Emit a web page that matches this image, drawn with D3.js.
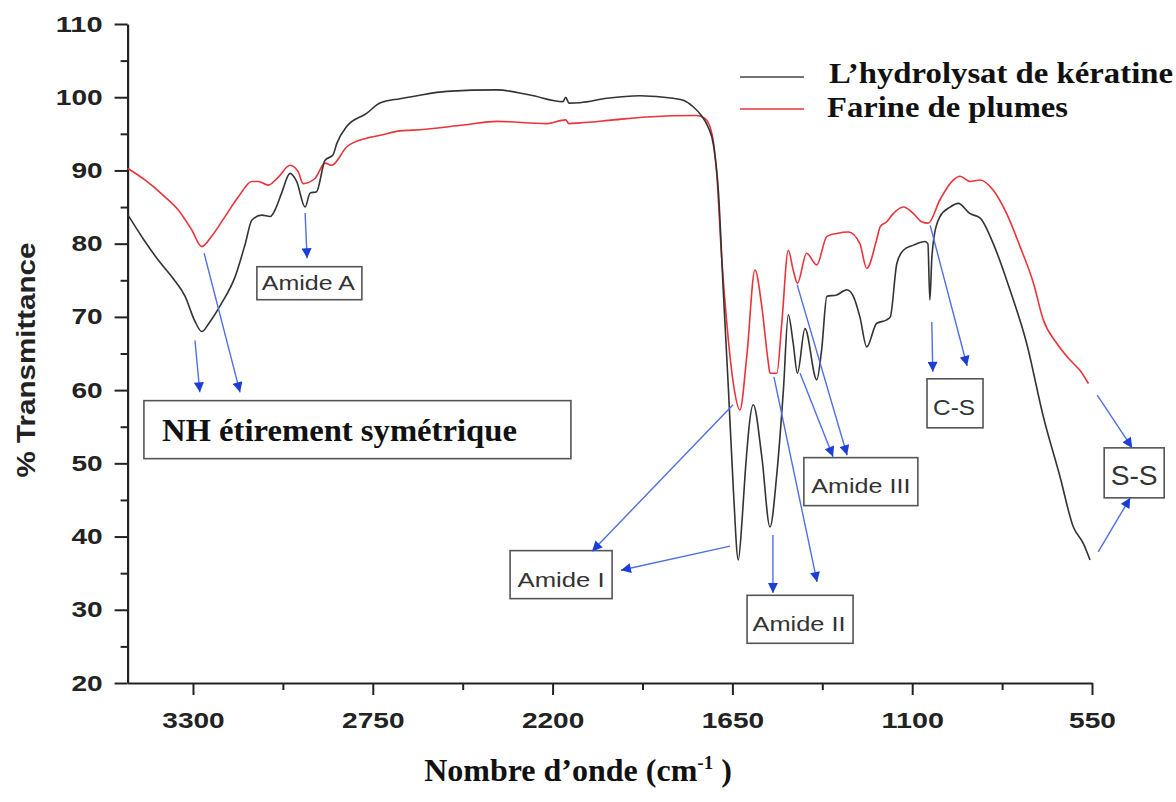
<!DOCTYPE html>
<html>
<head>
<meta charset="utf-8">
<script src="https://cdn.jsdelivr.net/npm/d3@7"></script>
<style>
  body { margin: 0; background: #fff; }
  svg { display: block; }
</style>
</head>
<body>
<svg id="chart" width="1176" height="802"></svg>
<script>

// wavenumbers (cm-1) and % transmittance
let hydroWave = [3500, 3450, 3407, 3360, 3324, 3295, 3273, 3250, 3212, 3171, 3140, 3120, 3090, 3064, 3045, 3029, 3003, 2983, 2957, 2942, 2922, 2896, 2872, 2860, 2830, 2769, 2728, 2667, 2627, 2524, 2371, 2269, 2168, 2160, 2150, 2116, 2034, 1933, 1831, 1800, 1770, 1745, 1725, 1708, 1693, 1678, 1662, 1647, 1632, 1620, 1611, 1586, 1560, 1535, 1514, 1494, 1479, 1464, 1451, 1428, 1392, 1377, 1361, 1331, 1300, 1280, 1260, 1239, 1209, 1178, 1167, 1147, 1127, 1096, 1061, 1052, 1046, 1040, 1033, 1015, 984, 959, 923, 892, 852, 801, 750, 699, 648, 607, 577, 556];
let hydroT = [84.0, 80.5, 77.8, 75.2, 72.8, 69.5, 68.0, 69.2, 71.9, 75.5, 80.0, 83.2, 83.9, 83.7, 85.0, 86.9, 89.6, 88.5, 85.0, 86.9, 87.1, 91.4, 92.1, 93.7, 96.0, 97.8, 99.2, 99.8, 100.1, 100.8, 101.0, 100.3, 99.4, 100.0, 99.2, 99.25, 99.85, 100.2, 99.85, 99.6, 98.7, 97.5, 96.0, 93.5, 87.3, 73.7, 60.0, 46.4, 36.8, 42.5, 48.6, 58.0, 50.9, 41.3, 48.6, 60.0, 70.3, 66.4, 62.3, 68.4, 61.4, 65.5, 72.8, 73.0, 73.7, 72.8, 70.0, 65.9, 69.1, 69.6, 70.0, 77.3, 79.1, 79.8, 80.3, 80.0, 72.3, 78.0, 81.0, 83.7, 85.0, 85.5, 84.1, 83.5, 80.0, 73.7, 66.4, 56.4, 48.2, 41.3, 39.1, 36.8];

let farineWave = [3500, 3447, 3386, 3345, 3304, 3273, 3243, 3202, 3161, 3120, 3100, 3070, 3039, 3003, 2978, 2963, 2927, 2896, 2876, 2830, 2769, 2728, 2667, 2626, 2473, 2371, 2218, 2160, 2150, 2116, 2014, 1912, 1759, 1734, 1713, 1698, 1683, 1667, 1647, 1627, 1606, 1581, 1560, 1540, 1535, 1514, 1499, 1479, 1464, 1451, 1423, 1392, 1361, 1331, 1295, 1260, 1239, 1209, 1198, 1178, 1158, 1127, 1096, 1071, 1051, 1015, 974, 954, 923, 892, 852, 811, 770, 729, 699, 658, 617, 587, 561];
let farineT = [90.3, 88.7, 86.4, 84.6, 81.9, 79.6, 81.0, 83.7, 86.4, 88.5, 88.5, 88.0, 89.1, 90.7, 89.8, 88.2, 88.9, 91.0, 90.7, 93.2, 94.4, 94.8, 95.4, 95.5, 96.2, 96.7, 96.4, 96.9, 96.4, 96.5, 96.9, 97.3, 97.5, 97.1, 95.1, 89.6, 78.2, 69.1, 60.9, 57.3, 64.6, 76.4, 71.4, 63.7, 62.3, 62.3, 69.1, 79.1, 76.4, 74.6, 78.7, 77.1, 81.0, 81.4, 81.6, 80.0, 76.6, 80.5, 82.3, 83.0, 84.1, 85.0, 84.1, 83.0, 82.8, 86.0, 88.7, 89.2, 88.5, 88.7, 87.3, 84.1, 79.6, 74.6, 69.6, 66.4, 64.1, 62.7, 60.9];

// tick values
let xMajorTicks = [3300, 2750, 2200, 1650, 1100, 550];
let xMinorTicks = [3025, 2475, 1925, 1375, 825];
let yMajorTicks = [20, 30, 40, 50, 60, 70, 80, 90, 100, 110];
let yMinorTicks = [25, 35, 45, 55, 65, 75, 85, 95, 105];

// series names
let seriesNames = ["L\u2019hydrolysat de kératine", "Farine de plumes"];

// annotation labels, where their boxes sit (wavenumber, %T) and the arrows
let labelNames = ["Amide A", "NH étirement symétrique", "Amide I", "Amide II", "Amide III", "C-S", "S-S"];
let labelSpots = [[2944, 74.6], [2797, 54.6], [2174, 34.8], [1443, 28.7], [1257, 47.5], [969, 58.2], [421, 48.7]];
let arrowFrom = [[2957, 84.2], [3294, 66.8], [3266, 78.7], [1648, 58.0], [1657, 38.7], [1526, 40.2], [1523, 61.8], [1452, 74.4], [1443, 62.3], [1040, 69.3], [1045, 82.5], [534, 59.3], [531, 37.9]];
let arrowTo = [[2951, 78.0], [3279, 59.7], [3156, 59.7], [2079, 38.0], [1991, 35.4], [1526, 32.3], [1391, 33.8], [1299, 51.1], [1342, 50.9], [1037, 62.5], [932, 63.3], [427, 52.1], [433, 45.3]];

// layout for the label boxes: width, height, font size, text length, serif?, text dx, baseline dy
let boxLayout = [
  [105, 33, 20, 93, false, -1, 6.5],
  [427, 58, 31, 355, true, -18, 11],
  [102, 48, 20, 87, false, 0, 12],
  [106, 48, 20, 93, false, -1, 12],
  [114, 48, 20, 99, false, 0, 11],
  [56, 49, 22, 42, false, -1, 11.5],
  [60, 50, 27, 47, false, 0, 12]
];

let svg = d3.select("#chart");

let xScale = d3.scaleLinear()
  .domain([3500, 550])
  .range([127.6, 1092]);

let yScale = d3.scaleLinear()
  .domain([20, 110])
  .range([683, 24]);

let sansFont = "'Liberation Sans', Arial, sans-serif";
let serifFont = "'Liberation Serif', 'Times New Roman', serif";

// minor ticks first so the axis lines sit on top
svg.append("g")
  .attr("transform", "translate(0, 683)")
  .call(d3.axisBottom(xScale).tickValues(xMinorTicks).tickSize(7).tickFormat(""))
  .call(g => g.select(".domain").remove())
  .selectAll("line").attr("stroke", "#222").attr("stroke-width", 2);

svg.append("g")
  .attr("transform", "translate(127.6, 0)")
  .call(d3.axisLeft(yScale).tickValues(yMinorTicks).tickSize(7).tickFormat(""))
  .call(g => g.select(".domain").remove())
  .selectAll("line").attr("stroke", "#222").attr("stroke-width", 2);

// x axis
let xAxis = svg.append("g")
  .attr("transform", "translate(0, 683)")
  .call(d3.axisBottom(xScale).tickValues(xMajorTicks).tickFormat(d3.format("d"))
    .tickSize(12).tickSizeOuter(0).tickPadding(17));

// y axis
let yAxis = svg.append("g")
  .attr("transform", "translate(127.6, 0)")
  .call(d3.axisLeft(yScale).tickValues(yMajorTicks).tickFormat(d3.format("d"))
    .tickSize(13).tickSizeOuter(0).tickPadding(12));

[xAxis, yAxis].forEach(ax => {
  ax.select(".domain").attr("stroke", "#222").attr("stroke-width", 2.2);
  ax.selectAll(".tick line").attr("stroke", "#222").attr("stroke-width", 2);
  ax.selectAll(".tick text")
    .attr("fill", "#222")
    .style("font-family", sansFont)
    .style("font-weight", "bold")
    .style("font-size", "22px")
    .attr("textLength", d => String(d).length * 15.6)
    .attr("lengthAdjust", "spacingAndGlyphs");
});

// y axis title
svg.append("text")
  .attr("transform", "translate(35, 360) rotate(-90)")
  .attr("text-anchor", "middle")
  .attr("textLength", 235)
  .attr("lengthAdjust", "spacingAndGlyphs")
  .style("font-family", sansFont)
  .style("font-weight", "bold")
  .style("font-size", "25px")
  .attr("fill", "#222")
  .text("% Transmittance");

// x axis title
let xTitle = svg.append("text")
  .attr("x", 578)
  .attr("y", 781)
  .attr("text-anchor", "middle")
  .style("font-family", serifFont)
  .style("font-weight", "bold")
  .style("font-size", "32px")
  .attr("fill", "#111");
xTitle.append("tspan").text("Nombre d\u2019onde (cm");
xTitle.append("tspan").attr("dy", -12).style("font-size", "19px").text("-1");
xTitle.append("tspan").attr("dy", 12).text(" )");

// spectra
let lineGen = d3.line()
  .x(d => xScale(d[0]))
  .y(d => yScale(d[1]))
  .curve(d3.curveMonotoneX);

let hydroPoints = hydroWave.map((w, i) => [w, hydroT[i]]);
let farinePoints = farineWave.map((w, i) => [w, farineT[i]]);

svg.append("path")
  .datum(farinePoints)
  .attr("d", lineGen)
  .attr("fill", "none")
  .attr("stroke", "#e8343a")
  .attr("stroke-width", 1.6);

svg.append("path")
  .datum(hydroPoints)
  .attr("d", lineGen)
  .attr("fill", "none")
  .attr("stroke", "#333")
  .attr("stroke-width", 1.6);

// legend
let legendColors = ["#444", "#e8343a"];
seriesNames.forEach((name, i) => {
  svg.append("line")
    .attr("x1", 740)
    .attr("x2", 804)
    .attr("y1", 77 + i * 32)
    .attr("y2", 77 + i * 32)
    .attr("stroke", legendColors[i])
    .attr("stroke-width", 1.6);

  svg.append("text")
    .attr("x", 829 - i * 2)
    .attr("y", 83 + i * 34)
    .attr("textLength", i == 0 ? 344 : 241)
    .attr("lengthAdjust", "spacingAndGlyphs")
    .style("font-family", serifFont)
    .style("font-weight", "bold")
    .style("font-size", "30px")
    .attr("fill", "#111")
    .text(name);
});

// label boxes
labelNames.forEach((name, i) => {
  let cx = xScale(labelSpots[i][0]);
  let cy = yScale(labelSpots[i][1]);
  let lay = boxLayout[i];

  svg.append("rect")
    .attr("x", cx - lay[0] / 2)
    .attr("y", cy - lay[1] / 2)
    .attr("width", lay[0])
    .attr("height", lay[1])
    .attr("fill", "#fff")
    .attr("stroke", "#555")
    .attr("stroke-width", 1.6);

  svg.append("text")
    .attr("x", cx + lay[5])
    .attr("y", cy + lay[6])
    .attr("text-anchor", "middle")
    .attr("textLength", lay[3])
    .attr("lengthAdjust", "spacingAndGlyphs")
    .style("font-family", lay[4] ? serifFont : sansFont)
    .style("font-weight", lay[4] ? "bold" : "normal")
    .style("font-size", lay[2] + "px")
    .attr("fill", lay[4] ? "#111" : "#333")
    .text(name);
});

// arrow heads
svg.append("defs")
  .append("marker")
  .attr("id", "head")
  .attr("viewBox", "0 0 10 10")
  .attr("refX", 10)
  .attr("refY", 5)
  .attr("markerUnits", "userSpaceOnUse")
  .attr("markerWidth", 11)
  .attr("markerHeight", 10)
  .attr("orient", "auto")
  .append("path")
  .attr("d", "M0,0 L10,5 L0,10 Z")
  .attr("fill", "#1b3fd6");

// arrows, drawn after the boxes so the heads stay visible
arrowFrom.forEach((p, i) => {
  svg.append("line")
    .attr("x1", xScale(p[0]))
    .attr("y1", yScale(p[1]))
    .attr("x2", xScale(arrowTo[i][0]))
    .attr("y2", yScale(arrowTo[i][1]))
    .attr("stroke", "#4f6fe3")
    .attr("stroke-width", 1.4)
    .attr("marker-end", "url(#head)");
});

</script>
</body>
</html>
